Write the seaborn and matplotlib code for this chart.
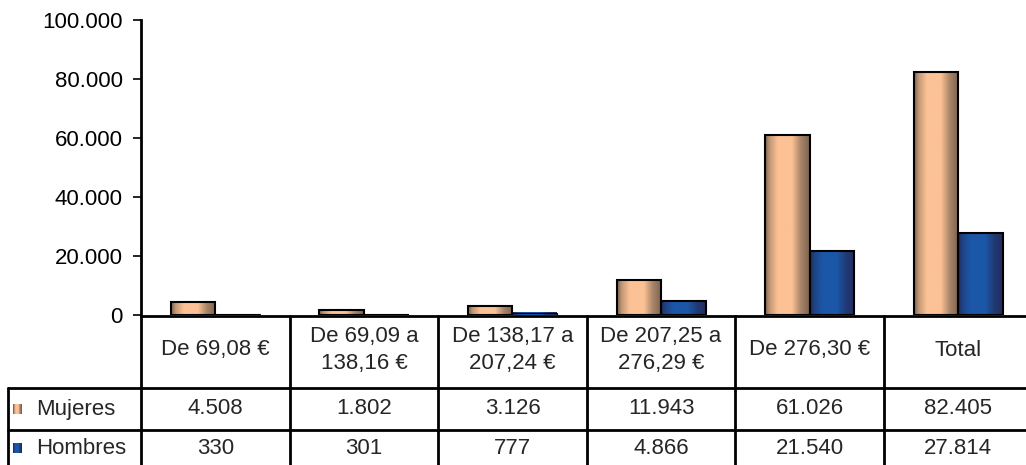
import numpy as np
import pandas as pd
import matplotlib
matplotlib.use("Agg")
import matplotlib.pyplot as plt
from matplotlib.patches import Rectangle
from matplotlib.lines import Line2D
import matplotlib.transforms as mtransforms
import seaborn as sns

# ---- data ----
categories = ["De 69,08 €", "De 69,09 a\n138,16 €", "De 138,17 a\n207,24 €",
              "De 207,25 a\n276,29 €", "De 276,30 €", "Total"]
series_names = ["Mujeres", "Hombres"]
mujeres = [4508, 1802, 3126, 11943, 61026, 82405]
hombres = [330, 301, 777, 4866, 21540, 27814]
yticks = [0, 20000, 40000, 60000, 80000, 100000]
ytick_labels = ["0", "20.000", "40.000", "60.000", "80.000", "100.000"]

def fmt(v):
    return f"{v:,}".replace(",", ".")

sns.set_theme(style="white")
plt.rcParams["font.family"] = ["Liberation Sans", "DejaVu Sans"]
FS = 16

W, H = 1026, 465
fig = plt.figure(figsize=(W / 100, H / 100), dpi=100)
colw = 148.6
ax_left, ax_top, ax_bottom = 141, 20, 315
ax = fig.add_axes([ax_left / W, 1 - ax_bottom / H, 6 * colw / W, (ax_bottom - ax_top) / H])

df = pd.DataFrame({
    "cat": categories * 2,
    "serie": [series_names[0]] * 6 + [series_names[1]] * 6,
    "val": mujeres + hombres,
})
sns.barplot(data=df, x="cat", y="val", hue="serie", order=categories,
            hue_order=series_names, width=0.6, legend=False, ax=ax,
            palette=["#FBBE91", "#1B56A7"], saturation=1)

# gradient fills (cylinder-like shading)
def grad_cmap(mid, dark):
    mid = np.array(matplotlib.colors.to_rgb(mid))
    dark = np.array(matplotlib.colors.to_rgb(dark))
    pos = np.linspace(0, 1, 64)
    prof = np.interp(pos, [0, 0.1, 0.28, 0.6, 0.8, 1.0], [0.0, 0.55, 1.0, 1.0, 0.35, 0.0])
    img = dark[None, :] * (1 - prof[:, None]) + mid[None, :] * prof[:, None]
    return img

grads = [grad_cmap("#FCC194", "#7D6451"), grad_cmap("#1B57A8", "#232C5C")]
patches = list(ax.patches)
n = len(categories)
for i, p in enumerate(patches):
    g = grads[i // n]
    x0, y0, w, h = p.get_x(), p.get_y(), p.get_width(), p.get_height()
    ax.imshow(g[None, :, :], extent=[x0, x0 + w, y0, y0 + h], aspect="auto",
              interpolation="bilinear", zorder=2)
    p.set_facecolor("none")
    p.set_edgecolor("black")
    p.set_linewidth(1.5 if h > 1000 else 0.8)
    p.set_zorder(3)

ax.set_xlim(-0.5, 5.5)
ax.set_ylim(0, 100000)
ax.set_yticks(yticks)
ax.set_yticklabels(ytick_labels, fontsize=FS)
ax.set_xticks([])
ax.set_xlabel("")
ax.set_ylabel("")
for s in ["top", "right"]:
    ax.spines[s].set_visible(False)
ax.spines["left"].set_linewidth(2)
ax.spines["left"].set_color("black")
ax.spines["bottom"].set_visible(False)
ax.tick_params(axis="y", left=True, length=6, width=1.2, color="black", pad=7,
               labelcolor="black")

# ---- data table under the chart ----
ax_h = ax_bottom - ax_top
def yf(py):  # pixel row -> axes fraction
    return (ax_bottom - py) / ax_h
bt = mtransforms.blended_transform_factory(ax.transData, ax.transAxes)
lw = 2
left_x = (8 - ax_left) / (6 * colw)  # axes fraction
right_x = (W - ax_left) / (6 * colw) + 0.01

def hline(py, x0):
    ax.add_line(Line2D([x0, right_x], [yf(py), yf(py)], transform=ax.transAxes,
                       color="black", lw=lw, clip_on=False, zorder=5))

hline(316, 0)
hline(388, left_x)
hline(430, left_x)
ax.add_line(Line2D([left_x, left_x], [yf(388), yf(470)], transform=ax.transAxes,
                   color="black", lw=lw, clip_on=False))
for k in range(n):
    xb = k - 0.5
    ax.add_line(Line2D([xb, xb], [yf(316), yf(470)], transform=bt,
                       color="black", lw=lw, clip_on=False))

for k, c in enumerate(categories):
    ax.text(k, yf(350), c, transform=bt, ha="center", va="center", fontsize=FS,
            linespacing=1.35, clip_on=False)
    ax.text(k, yf(409), fmt(mujeres[k]), transform=bt, ha="center", va="center",
            fontsize=FS, clip_on=False)
    ax.text(k, yf(448), fmt(hombres[k]), transform=bt, ha="center", va="center",
            fontsize=FS, clip_on=False)

# legend keys in the table
def px2ax(px):
    return (px - ax_left) / (6 * colw)
for (row_y, g, name) in [(409, grads[0], series_names[0]), (448, grads[1], series_names[1])]:
    nslice = 9
    x0 = 13
    for s in range(nslice):
        col = g[int(s / (nslice - 1) * 63)]
        ax.add_patch(Rectangle((px2ax(x0 + s), yf(row_y + 5)), 1.05 / (6 * colw), 10 / ax_h,
                               transform=ax.transAxes, facecolor=col, edgecolor="none",
                               clip_on=False))
    ax.text(px2ax(36), yf(row_y), name, transform=ax.transAxes, ha="left", va="center",
            fontsize=FS, clip_on=False)

fig.savefig("out.png", dpi=100)
